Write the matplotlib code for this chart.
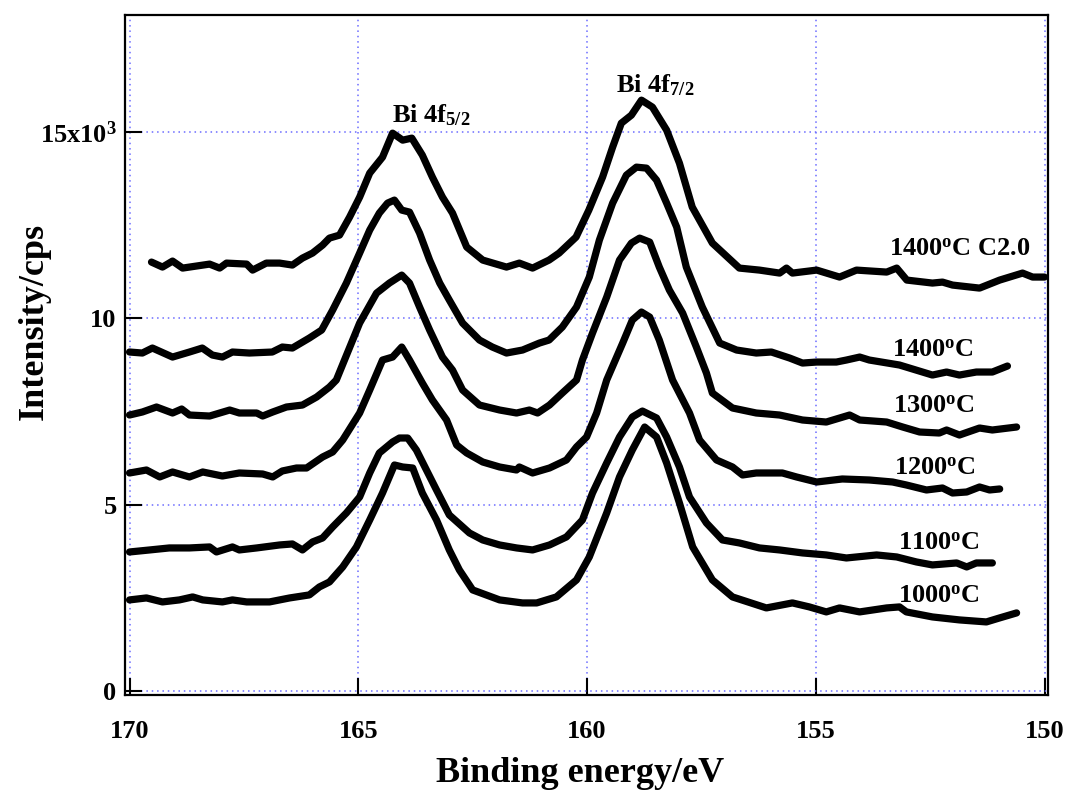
import matplotlib
matplotlib.use("Agg")
import matplotlib.pyplot as plt

plt.rcParams['font.family'] = ['Liberation Serif', 'DejaVu Serif']
plt.rcParams['font.weight'] = 'bold'
plt.rcParams['mathtext.fontset'] = 'custom'
plt.rcParams['mathtext.rm'] = 'Liberation Serif:bold'
plt.rcParams['mathtext.bf'] = 'Liberation Serif:bold'
plt.rcParams['mathtext.it'] = 'Liberation Serif:bold:italic'
plt.rcParams['mathtext.default'] = 'bf'

# 1400 C C2.0
e_c20 = [169.52, 169.28, 169.06, 168.84, 168.25, 168.03, 167.88, 167.44, 167.31, 167.01,
         166.72, 166.44, 166.22, 166.00, 165.78, 165.63, 165.41, 165.19, 164.97, 164.75,
         164.47, 164.25, 164.03, 163.83, 163.60, 163.38, 163.16, 162.94, 162.63, 162.28,
         161.76, 161.48, 161.19, 160.83, 160.61, 160.24, 159.96, 159.66, 159.44, 159.25,
         159.03, 158.81, 158.57, 158.26, 157.98, 157.70, 157.26, 156.67, 156.23, 155.79,
         155.64, 155.51, 154.98, 154.48, 154.11, 153.45, 153.23, 153.01, 152.45, 152.23,
         152.01, 151.42, 150.98, 150.48, 150.26, 150.00]
i_c20 = [11510, 11376, 11537, 11349, 11456, 11349, 11483, 11456, 11295, 11483,
         11483, 11430, 11617, 11752, 11966, 12154, 12234, 12717, 13254, 13898,
         14327, 14971, 14783, 14837, 14381, 13790, 13254, 12825, 11913, 11564,
         11376, 11483, 11349, 11564, 11752, 12181, 12905, 13791, 14596, 15239,
         15454, 15857, 15669, 15052, 14166, 12986, 12020, 11349, 11295, 11215,
         11349, 11215, 11295, 11108, 11295, 11242, 11349, 11027, 10947, 10973,
         10893, 10812, 11027, 11215, 11108, 11108]

# 1400 C
e_1400 = [170.00, 169.72, 169.50, 169.06, 168.69, 168.41, 168.19, 167.97, 167.75, 167.38,
          166.88, 166.66, 166.44, 166.07, 165.80, 165.56, 165.26, 164.97, 164.75, 164.54,
          164.36, 164.21, 164.05, 163.88, 163.66, 163.44, 163.22, 163.01, 162.72, 162.35,
          162.07, 161.76, 161.41, 161.04, 160.83, 160.54, 160.23, 159.95, 159.73, 159.44,
          159.14, 158.92, 158.70, 158.48, 158.26, 158.04, 157.83, 157.48, 157.10, 156.73,
          156.30, 155.97, 155.57, 155.29, 154.98, 154.55, 154.33, 154.04, 153.83, 153.17,
          152.45, 152.14, 151.86, 151.49, 151.14, 150.81]
i_1400 = [9096, 9069, 9203, 8961, 9096, 9203, 9015, 8961, 9096, 9069,
          9096, 9230, 9203, 9471, 9686, 10222, 10947, 11752, 12369, 12825,
          13093, 13174, 12905, 12852, 12288, 11564, 10947, 10491, 9873, 9417,
          9230, 9069, 9149, 9337, 9417, 9766, 10303, 11108, 12100, 13093,
          13844, 14059, 14032, 13710, 13093, 12449, 11376, 10303, 9337, 9149,
          9069, 9096, 8934, 8800, 8827, 8827, 8881, 8961, 8881, 8747,
          8478, 8559, 8478, 8559, 8559, 8720]

# 1300 C
e_1300 = [170.00, 169.72, 169.41, 169.06, 168.86, 168.69, 168.25, 167.81, 167.60, 167.22,
          167.09, 166.87, 166.57, 166.22, 165.91, 165.63, 165.48, 165.23, 164.97, 164.60,
          164.32, 164.05, 163.88, 163.66, 163.44, 163.16, 162.94, 162.72, 162.35, 161.91,
          161.54, 161.26, 161.08, 160.82, 160.54, 160.23, 160.10, 159.88, 159.57, 159.29,
          159.03, 158.85, 158.63, 158.42, 158.20, 157.91, 157.61, 157.39, 157.26, 156.82,
          156.30, 155.79, 155.29, 154.77, 154.26, 154.04, 153.45, 153.10, 152.73, 152.30,
          152.14, 151.86, 151.42, 151.14, 150.61]
i_1300 = [7405, 7486, 7620, 7459, 7566, 7405, 7378, 7539, 7459, 7459,
          7378, 7486, 7620, 7673, 7888, 8156, 8344, 9095, 9873, 10678,
          10947, 11161, 10947, 10303, 9686, 8961, 8612, 8076, 7673, 7539,
          7459, 7539, 7459, 7673, 7995, 8344, 8881, 9605, 10571, 11564,
          12020, 12154, 12047, 11376, 10759, 10142, 9230, 8532, 7995, 7593,
          7459, 7405, 7271, 7217, 7405, 7271, 7217, 7083, 6949, 6922,
          7003, 6868, 7056, 7003, 7083]

# 1200 C
e_1200 = [170.00, 169.63, 169.34, 169.06, 168.69, 168.40, 167.97, 167.60, 167.09, 166.87,
          166.66, 166.35, 166.13, 165.78, 165.56, 165.34, 164.97, 164.75, 164.47, 164.25,
          164.05, 163.88, 163.60, 163.38, 163.07, 162.85, 162.63, 162.28, 161.91, 161.54,
          161.48, 161.19, 160.82, 160.45, 160.23, 160.01, 159.79, 159.57, 159.22, 159.01,
          158.81, 158.63, 158.42, 158.13, 157.76, 157.54, 157.17, 156.82, 156.60, 156.30,
          155.73, 155.42, 154.98, 154.42, 153.83, 153.32, 153.02, 152.58, 152.23, 152.01,
          151.70, 151.42, 151.20, 150.98]
i_1200 = [5849, 5929, 5742, 5876, 5742, 5876, 5768, 5849, 5822, 5742,
          5903, 5983, 5983, 6278, 6412, 6734, 7459, 8076, 8881, 8961,
          9230, 8881, 8264, 7808, 7271, 6600, 6386, 6144, 6010, 5929,
          6010, 5849, 5983, 6198, 6547, 6815, 7459, 8344, 9337, 9954,
          10169, 10034, 9417, 8344, 7459, 6734, 6198, 6010, 5795, 5849,
          5849, 5742, 5607, 5688, 5661, 5607, 5527, 5393, 5446, 5312,
          5339, 5473, 5393, 5420]

# 1100 C
e_1100 = [170.00, 169.56, 169.13, 168.69, 168.25, 168.10, 167.75, 167.60, 167.22, 166.72,
          166.44, 166.22, 166.00, 165.78, 165.56, 165.26, 164.97, 164.75, 164.54, 164.25,
          164.10, 163.92, 163.73, 163.51, 163.29, 163.01, 162.57, 162.28, 161.91, 161.54,
          161.19, 160.82, 160.45, 160.10, 159.88, 159.57, 159.29, 159.01, 158.79, 158.48,
          158.26, 157.98, 157.76, 157.39, 157.04, 156.67, 156.23, 155.79, 155.29, 154.77,
          154.33, 153.67, 153.23, 152.80, 152.45, 151.92, 151.70, 151.49, 151.14]
i_1100 = [3729, 3783, 3837, 3837, 3864, 3729, 3864, 3783, 3837, 3917,
          3944, 3783, 3998, 4105, 4400, 4776, 5205, 5849, 6386, 6681,
          6788, 6788, 6466, 5929, 5393, 4722, 4239, 4051, 3917, 3837,
          3783, 3917, 4132, 4588, 5312, 6117, 6815, 7351, 7512, 7325,
          6815, 6010, 5205, 4507, 4051, 3971, 3837, 3783, 3703, 3649,
          3568, 3649, 3595, 3461, 3381, 3434, 3327, 3434, 3434]

# 1000 C
e_1000 = [170.00, 169.63, 169.28, 168.91, 168.62, 168.40, 167.97, 167.75, 167.44, 166.94,
          166.50, 166.07, 165.85, 165.63, 165.34, 165.04, 164.75, 164.47, 164.21, 164.03,
          163.81, 163.60, 163.29, 163.01, 162.79, 162.50, 161.91, 161.41, 161.10, 160.67,
          160.23, 159.95, 159.57, 159.29, 159.01, 158.74, 158.48, 158.26, 157.98, 157.69,
          157.26, 156.82, 156.08, 155.51, 155.14, 154.77, 154.48, 154.04, 153.45, 153.17,
          153.02, 152.45, 151.86, 151.27, 150.98, 150.61]
i_1000 = [2442, 2495, 2388, 2442, 2522, 2442, 2388, 2442, 2388, 2388,
          2495, 2576, 2790, 2924, 3327, 3864, 4588, 5312, 6064, 6010,
          5983, 5312, 4588, 3783, 3246, 2710, 2442, 2361, 2361, 2522,
          2978, 3595, 4776, 5742, 6466, 7083, 6815, 6117, 5044, 3864,
          2978, 2522, 2227, 2361, 2254, 2120, 2227, 2120, 2227, 2254,
          2120, 1985, 1905, 1851, 1959, 2093]

curves = [(e_c20, i_c20), (e_1400, i_1400), (e_1300, i_1300),
          (e_1200, i_1200), (e_1100, i_1100), (e_1000, i_1000)]

curve_labels = [r'1400$^{\mathbf{o}}$C C2.0', r'1400$^{\mathbf{o}}$C', r'1300$^{\mathbf{o}}$C',
                r'1200$^{\mathbf{o}}$C', r'1100$^{\mathbf{o}}$C', r'1000$^{\mathbf{o}}$C']
label_e = [153.41, 153.34, 153.32, 153.28, 153.21, 153.21]
label_i = [11671, 8961, 7459, 5795, 3783, 2361]

peak_labels = [r'Bi 4f$_{\mathbf{5/2}}$', r'Bi 4f$_{\mathbf{7/2}}$']
peak_e = [164.27, 159.36]
peak_i = [15266, 16071]

y_ticks = [0, 5000, 10000, 15000]
y_ticklabels = ['0', '5', '10', r'15x10$^{\mathbf{3}}$']
x_ticks = [170, 165, 160, 155, 150]

fig = plt.figure(figsize=(10.68, 7.94), dpi=100)
ax = fig.add_axes([0.117, 0.1247, 0.864, 0.8563])

for e, i in curves:
    ax.plot(e, i, color='black', linewidth=5.2, solid_joinstyle='round', solid_capstyle='round')

for txt, x, y in zip(curve_labels, label_e, label_i):
    ax.text(x, y, txt, fontsize=19, fontweight='bold', ha='left', va='baseline')

for txt, x, y in zip(peak_labels, peak_e, peak_i):
    ax.text(x, y, txt, fontsize=19, fontweight='bold', ha='left', va='baseline')

ax.set_xlim(170.1, 149.93)
ax.set_ylim(-110, 18140)
ax.set_xticks(x_ticks)
ax.set_xticklabels([str(t) for t in x_ticks])
ax.set_yticks(y_ticks)
ax.set_yticklabels(y_ticklabels)

ax.grid(True, color=(0.42, 0.42, 1.0), linestyle=(0, (1, 2.5)), linewidth=1.1)
ax.tick_params(axis='both', direction='in', length=12, width=1.5, labelsize=19,
               top=False, right=False)
ax.tick_params(axis='x', pad=18)
ax.tick_params(axis='y', pad=6)
for s in ax.spines.values():
    s.set_linewidth(1.6)

ax.set_xlabel('Binding energy/eV', fontsize=26, fontweight='bold')
ax.set_ylabel('Intensity/cps', fontsize=26, fontweight='bold')
ax.xaxis.set_label_coords(0.493, -0.091)
ax.yaxis.set_label_coords(-0.08, 0.55)

fig.savefig('out.png', dpi=100)
